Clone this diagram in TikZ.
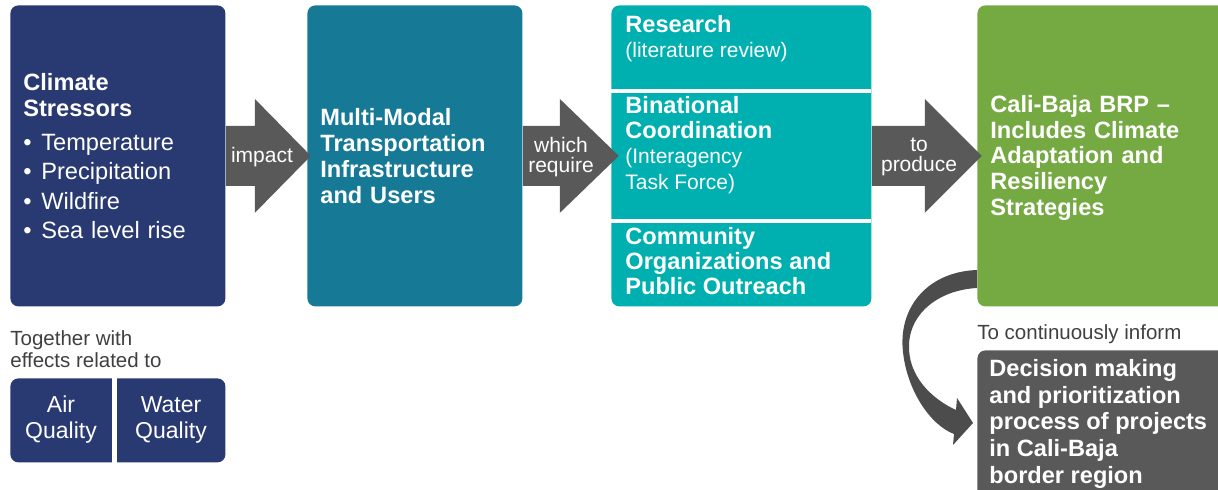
\documentclass[tikz,border=0pt]{standalone}
\usepackage{fontspec}
\setmainfont{Liberation Sans}
\usetikzlibrary{calc}

\definecolor{navy}{RGB}{41,57,114}
\definecolor{petrol}{RGB}{22,122,150}
\definecolor{aqua}{RGB}{0,176,176}
\definecolor{leaf}{RGB}{117,170,67}
\definecolor{slate}{RGB}{89,89,89}
\definecolor{inktext}{RGB}{64,64,64}

\newcommand{\smallfont}{\fontsize{10.5}{12.6}\selectfont\mdseries}
% block arrow leaving the east side of a box
\newcommand{\flowarrow}[3]{%
  \fill[slate] ($(#1.east)+(0,-30)$) -- ++(#2,0) -- ++(0,-27) -- ++(#3,57)
    -- ++(-#3,57) -- ++(0,-27) -- ++(-#2,0) -- cycle;}

\begin{document}
\begin{tikzpicture}[x=0.5pt,y=-0.5pt,
	box/.style={anchor=north west, rounded corners=4pt, inner xsep=6.5pt, inner ysep=0pt,
		text=white, align=left, minimum height=150.5pt},
	bigfont/.style={font=\fontsize{11.8}{12.9}\selectfont\bfseries},
	sectext/.style={anchor=north west, inner sep=0pt, text=white, align=left,
		font=\fontsize{11.8}{12.6}\selectfont\bfseries},
	note/.style={anchor=north west, inner sep=0pt, text=inktext, align=left,
		font=\fontsize{10.25}{11}\selectfont},
	arrowlabel/.style={inner sep=0pt, text=white, align=center,
		font=\fontsize{10.5}{10.2}\selectfont},
	qualtext/.style={inner sep=0pt, text=white, align=center,
		font=\fontsize{11.5}{13}\selectfont}]
	\useasboundingbox (0,0) rectangle (1218,490);

	% main row
	\node[box, fill=navy, minimum width=107.5pt, text width=94.5pt,
		font=\fontsize{11.8}{13}\selectfont] (climate) at (10,5)
		{\textbf{Climate}\\\textbf{Stressors}\\[4pt]
		\makebox[9pt][l]{•}Temperature\\[1.75pt]
		\makebox[9pt][l]{•}Precipitation\\[1.75pt]
		\makebox[9pt][l]{•}Wildfire\\[1.75pt]
		\makebox[9pt][l]{•}Sea level rise};
	\node[box, fill=petrol, minimum width=107.5pt, text width=94.5pt, bigfont] (multi) at (307,5)
		{Multi-Modal\\Transportation\\Infrastructure\\and Users};
	\node[box, fill=aqua, minimum width=130pt] (coord) at (611,5) {};
	\fill[white] (611,89) rectangle (871,93);
	\fill[white] (611,219) rectangle (871,223);
	\node[sectext] (research) at (625,15) {Research\\{\smallfont (literature review)}};
	\node[sectext] (binational) at (625,96)
		{Binational\\Coordination\\{\smallfont (Interagency}\\{\smallfont Task Force)}};
	\node[sectext] (community) at (625,227) {Community\\Organizations and\\Public Outreach};
	\node[box, fill=leaf, minimum width=125pt, text width=112pt, bigfont] (brp) at (977,5)
		{\rule{0pt}{10.6pt}Cali-Baja BRP –\\Includes Climate\\Adaptation and\\Resiliency\\Strategies};

	% arrows between the boxes
	\flowarrow{climate}{29}{56}
	\flowarrow{multi}{37}{59}
	\flowarrow{coord}{53}{57}
	\node[arrowlabel] (impact) at (262,157) {impact};
	\node[arrowlabel] (require) at (561,157) {which\\require};
	\node[arrowlabel] (produce) at (919,157) {to\\produce};

	% decision box
	\node[note, anchor=base west] (inform) at (977,340) {To continuously inform};
	\node[box, fill=slate, minimum width=125pt, minimum height=80pt] (decision) at (977,350) {};
	\node[sectext, font=\fontsize{11.8}{13.35}\selectfont\bfseries] (decisiontxt) at (989,359)
		{Decision making\\and prioritization\\process of projects\\in Cali-Baja\\border region};
	\fill[slate!85!black] (977,270) .. controls (925,272) and (898,310) .. (903,352)
		.. controls (907,390) and (930,425) .. (954,434) -- (953,445) -- (973,423)
		-- (957,398) -- (956,410) .. controls (930,398) and (908,375) .. (909,345)
		.. controls (910,312) and (940,290) .. (977,288) -- cycle;

	% air and water quality
	\node[note] (together) at (10,330) {Together with\\effects related to};
	\node[anchor=north west, fill=navy, rounded corners=4pt, minimum width=107.5pt,
		minimum height=42pt, inner sep=0pt] (quality) at (10,378) {};
	\fill[white] (112,376) rectangle (117,464);
	\node[qualtext] (air) at (61,420) {Air\\Quality};
	\node[qualtext] (water) at (171,420) {Water\\Quality};
\end{tikzpicture}
\end{document}
